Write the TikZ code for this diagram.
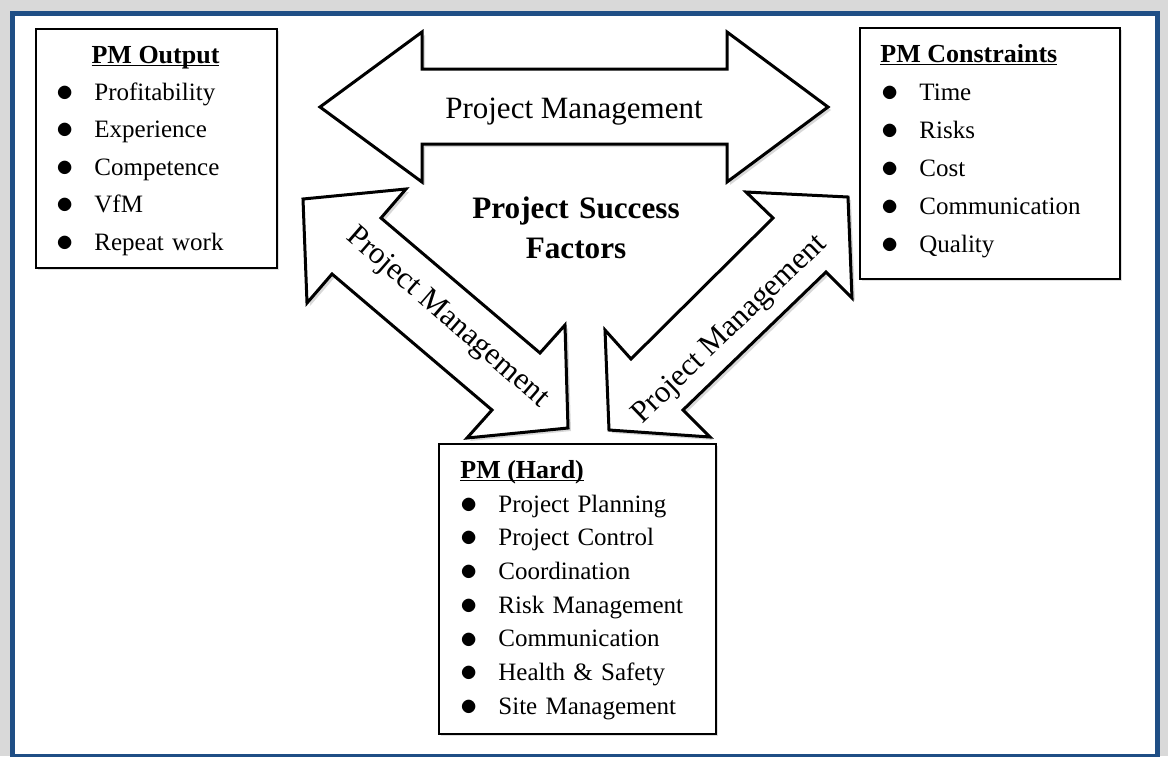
\documentclass[tikz,border=0pt]{standalone}
\usepackage{fontspec}
\setmainfont{Liberation Serif}
\usepackage{xcolor}
\definecolor{FrameBlue}{HTML}{1F4E85}
\definecolor{Backdrop}{HTML}{D9D9D9}
\usetikzlibrary{positioning,shadows}
\newcommand{\pmitem}[1]{\makebox[18pt][l]{\hspace*{-1pt}\raisebox{-0.6pt}{\fontsize{16}{16}\selectfont$\bullet$}}#1\par}
\newcommand{\uhead}[1]{\setbox0=\hbox{#1}\rlap{\rule[-1.6pt]{\wd0}{0.7pt}}\box0}

\begin{document}
\begin{tikzpicture}[x=0.5pt,y=-0.5pt,
  every node/.style={font=\fontsize{12.5}{18.75}\selectfont,inner sep=0pt},
  arrowshape/.style={draw=black,line width=1.5pt,fill=white,line join=miter,
    drop shadow={shadow xshift=1.5pt,shadow yshift=-1.5pt,opacity=0.3}},
  pmbox/.style={draw=black,line width=1pt,fill=white,anchor=north west,
    drop shadow={shadow xshift=1pt,shadow yshift=-1pt,opacity=0.25}},
  boxtitle/.style={font=\fontsize{13}{16}\selectfont\bfseries},
  armlabel/.style={font=\fontsize{15.5}{18}\selectfont}]
\useasboundingbox (0,0) rectangle (1168,756);
% frame
\fill[Backdrop] (0,0) rectangle (1168,756);
\draw[FrameBlue,line width=2.5pt,fill=white] (12.5,13.5) rectangle (1157.5,756);

% double arrows
\draw[arrowshape] (320,107) -- (422,32) -- (422,69) -- (727,69) -- (727,32) -- (828,107)
  -- (727,182) -- (727,144) -- (422,144) -- (422,182) -- cycle;
\draw[arrowshape] (303,199) -- (406,189) -- (381,218) -- (540,353) -- (565,325) -- (568,428)
  -- (467,438) -- (492,410) -- (332,274) -- (307,303) -- cycle;
\draw[arrowshape] (848,197) -- (852,298) -- (826,272) -- (683,410) -- (710,437) -- (609,430)
  -- (605,330) -- (631,359) -- (773,218) -- (746,192) -- cycle;
\node[armlabel,anchor=base] (toplabel) at (574,118) {Project Management};
\node[armlabel,rotate=-41] (leftlabel) at (447,318) {Project Management};
\node[armlabel,rotate=44] (rightlabel) at (730,330) {Project Management};

\node[font=\fontsize{15.6}{20}\selectfont\bfseries,text width=120pt,align=center,anchor=base] (success) at (576,218) {Project Success\\Factors};

% PM Output
\node[pmbox,minimum width=120.5pt,minimum height=119.5pt] (outbox) at (35,28) {};
\node[boxtitle,anchor=base] (outtitle) at (155.5,63) {\uhead{PM Output}};
\node[anchor=base west,text width=110pt] (outlist) at (58,100) {\pmitem{Profitability}\pmitem{Experience}\pmitem{Competence}\pmitem{VfM}\pmitem{Repeat work}};

% PM Constraints
\node[pmbox,minimum width=130pt,minimum height=125.5pt] (conbox) at (859,27) {};
\node[boxtitle,anchor=base west] (contitle) at (880,62) {\uhead{PM Constraints}};
\node[anchor=base west,text width=110pt,font=\fontsize{12.5}{19}\selectfont] (conlist) at (883,100) {\pmitem{Time}\pmitem{Risks}\pmitem{Cost}\pmitem{Communication}\pmitem{Quality}};

% PM (Hard)
\node[pmbox,minimum width=138.5pt,minimum height=145pt] (hardbox) at (438,443) {};
\node[boxtitle,anchor=base west] (hardtitle) at (460,478) {\uhead{PM (Hard)}};
\node[anchor=base west,text width=125pt,font=\fontsize{12.5}{16.85}\selectfont] (hardlist) at (462,512) {\pmitem{Project Planning}\pmitem{Project Control}\pmitem{Coordination}\pmitem{Risk Management}\pmitem{Communication}\pmitem{Health \& Safety}\pmitem{Site Management}};
\end{tikzpicture}
\end{document}
